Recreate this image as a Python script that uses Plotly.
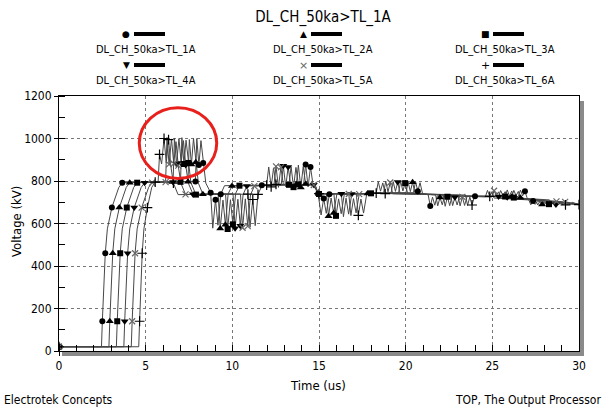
import plotly.graph_objects as go

# ---------------- data ----------------
names = ["DL_CH_50ka>TL_1A", "DL_CH_50ka>TL_2A", "DL_CH_50ka>TL_3A",
         "DL_CH_50ka>TL_4A", "DL_CH_50ka>TL_5A", "DL_CH_50ka>TL_6A"]

t1 = [0, 2.45, 2.5, 2.6, 2.67, 2.79, 3.05, 3.45, 3.65, 5.2, 7.87, 7.95, 8.07, 8.19, 8.32, 8.47,
      8.75, 8.87, 9.03, 9.17, 9.33, 9.55, 11.7, 14.11, 14.23, 14.37, 14.51, 14.65, 14.95, 15.12,
      15.27, 15.42, 15.6, 17.5, 20.45, 20.57, 20.7, 20.83, 20.97, 21.3, 21.42, 21.55, 21.68, 21.82,
      24.0, 26.5, 26.62, 26.75, 26.88, 27.0, 27.1, 27.22, 27.35, 27.47, 27.6, 30]
v1 = [20, 20, 140, 305, 460, 575, 675, 770, 792, 795, 798, 1000, 875, 990, 885, 790,
      745, 578, 712, 592, 738, 778, 780, 782, 878, 772, 866, 785, 740, 640,
      718, 648, 738, 742, 745, 798, 752, 792, 742, 735, 682, 724, 686, 730,
      728, 727, 757, 730, 752, 722, 712, 688, 706, 690, 703, 690]

t2 = [0, 2.88, 2.93, 3.03, 3.1, 3.22, 3.48, 3.88, 4.08, 5.6, 7.44, 7.52, 7.64, 7.76, 7.89, 8.04,
      8.3, 9.18, 9.3, 9.46, 9.6, 9.76, 9.98, 11.7, 13.69, 13.81, 13.95, 14.09, 14.23, 14.7, 15.0,
      15.43, 15.55, 15.7, 15.85, 16.03, 17.8, 20.02, 20.14, 20.27, 20.4, 20.54, 21.73, 21.85,
      21.98, 22.11, 22.25, 24.2, 26.12, 26.24, 26.37, 26.5, 26.62, 27.5, 27.62, 27.75, 27.87,
      28.0, 30]
v2 = [20, 20, 140, 305, 460, 575, 675, 770, 792, 795, 797, 995, 878, 1000, 888, 790,
      738, 740, 576, 710, 594, 740, 776, 780, 783, 875, 770, 868, 786, 784, 740,
      740, 634, 720, 650, 738, 741, 745, 796, 750, 794, 742, 734, 683,
      722, 688, 729, 728, 726, 756, 731, 751, 721, 708, 687, 705, 689,
      702, 689]

t3 = [0, 3.31, 3.36, 3.46, 3.53, 3.65, 3.91, 4.31, 4.51, 5.8, 7.01, 7.09, 7.21, 7.33, 7.46, 7.61,
      7.9, 9.61, 9.73, 9.89, 10.03, 10.19, 10.41, 12.0, 13.27, 13.39, 13.53, 13.67, 13.81, 14.7,
      15.0, 15.86, 15.98, 16.13, 16.28, 16.46, 18.0, 19.59, 19.71, 19.84, 19.97, 20.11, 22.16,
      22.28, 22.41, 22.54, 22.68, 24.3, 25.74, 25.86, 25.99, 26.12, 26.24, 27.9, 28.02, 28.15,
      28.27, 28.4, 30]
v3 = [20, 20, 140, 305, 460, 575, 675, 770, 792, 795, 796, 1004, 880, 992, 885, 792,
      736, 738, 574, 712, 596, 742, 778, 780, 782, 868, 771, 864, 784, 783,
      739, 739, 636, 716, 646, 737, 742, 744, 799, 753, 790, 743, 735,
      681, 726, 684, 731, 729, 727, 758, 729, 753, 722, 710, 689, 707,
      691, 701, 690]

t4 = [0, 3.74, 3.79, 3.89, 3.96, 4.08, 4.34, 4.74, 4.94, 6.0, 6.58, 6.66, 6.78, 6.92, 7.05, 7.18,
      7.31, 7.46, 7.73, 10.04, 10.16, 10.32, 10.46, 10.62, 10.84, 12.82, 12.94, 13.08, 13.22,
      13.36, 14.7, 15.0, 16.29, 16.41, 16.56, 16.71, 16.89, 19.16, 19.28, 19.41, 19.54, 19.68,
      22.59, 22.71, 22.84, 22.97, 23.11, 24.5, 25.36, 25.48, 25.61, 25.74, 25.86, 28.3, 28.42,
      28.55, 28.67, 28.8, 30]
v4 = [20, 20, 140, 305, 460, 575, 675, 770, 792, 795, 795, 1002, 880, 1000, 885, 990,
      875, 790, 738, 740, 578, 714, 590, 736, 777, 781, 872, 773, 866,
      786, 782, 741, 740, 632, 719, 644, 739, 745, 797, 751, 795, 741,
      736, 684, 723, 687, 728, 728, 727, 755, 732, 750, 723, 711, 688,
      704, 690, 703, 690]

t5 = [0, 4.17, 4.22, 4.32, 4.39, 4.51, 4.77, 5.17, 5.37, 5.9, 6.15, 6.23, 6.35, 6.49, 6.62, 6.75,
      6.88, 7.03, 7.3, 10.47, 10.59, 10.75, 10.89, 11.05, 11.27, 12.4, 12.52, 12.66, 12.8, 12.94,
      14.7, 15.0, 16.72, 16.84, 16.99, 17.14, 17.32, 18.73, 18.85, 18.98, 19.11, 19.25, 23.02,
      23.14, 23.27, 23.4, 23.54, 24.98, 25.1, 25.23, 25.36, 25.48, 28.7, 28.82, 28.95, 29.07,
      29.2, 30]
v5 = [20, 20, 140, 305, 460, 575, 675, 770, 792, 795, 795, 1005, 878, 998, 882, 985,
      872, 790, 737, 739, 580, 716, 588, 735, 776, 780, 869, 770, 864, 785,
      781, 740, 739, 637, 717, 650, 738, 744, 800, 749, 793, 740, 733,
      683, 725, 685, 727, 725, 754, 731, 749, 721, 704, 689, 703, 690,
      702, 690]

t6 = [0, 4.6, 4.65, 4.73, 4.8, 4.9, 5.1, 5.35, 5.55, 5.72, 5.8, 5.92, 6.06, 6.19, 6.32, 6.45,
      6.6, 6.87, 10.9, 11.02, 11.18, 11.32, 11.48, 11.7, 11.98, 12.1, 12.24, 12.38, 12.52, 14.7,
      15.0, 17.15, 17.27, 17.42, 17.57, 17.75, 18.3, 18.42, 18.55, 18.68, 18.82, 23.45, 23.57,
      23.7, 23.83, 23.97, 24.6, 24.72, 24.85, 24.98, 25.1, 29.1, 29.22, 29.35, 29.47, 29.6, 30]
v6 = [20, 20, 140, 305, 460, 575, 675, 770, 795, 798, 925, 880, 1000, 885, 995, 870,
      790, 736, 738, 582, 713, 590, 737, 777, 781, 866, 772, 862, 784, 782,
      741, 740, 638, 715, 649, 737, 743, 797, 752, 791, 741, 734, 685,
      724, 687, 728, 726, 756, 728, 750, 720, 702, 688, 701, 689, 700, 689]

times = [t1, t2, t3, t4, t5, t6]
volts = [v1, v2, v3, v4, v5, v6]

y_ticks = [0, 200, 400, 600, 800, 1000, 1200]
x_ticks = [0, 5, 10, 15, 20, 25, 30]

# ---------------- styles ----------------
symbols = ["circle", "triangle-up", "square", "triangle-down", "x-thin", "cross-thin"]
msizes = [6, 7, 6, 7, 6, 7]
mcolors = ["black", "black", "black", "black", "#666666", "black"]
glyphs = ["\u25CF", "\u25B2", "\u25A0", "\u25BC", "\u00D7", "+"]
FONT = "DejaVu Sans Condensed, Liberation Sans Narrow, Arial Narrow, sans-serif"

fig = go.Figure()
for t, v in zip(times, volts):
    fig.add_trace(go.Scatter(x=t, y=v, mode="lines",
                             line=dict(color="#474747", width=1),
                             showlegend=False, hoverinfo="skip"))
for t, v, s, ms, mc, n in zip(times, volts, symbols, msizes, mcolors, names):
    thin = s.endswith("thin")
    # markers every 2nd sample early on, sparser later (as in the plot output)
    mx = [x for i, x in enumerate(t) if (x < 16 and i % 2 == 0) or (x >= 16 and i % 4 == 0)]
    my = [y for i, (x, y) in enumerate(zip(t, v)) if (x < 16 and i % 2 == 0) or (x >= 16 and i % 4 == 0)]
    fig.add_trace(go.Scatter(x=mx, y=my, mode="markers", name=n,
                             marker=dict(symbol=s, size=ms, color=mc,
                                         line=dict(width=1.2 if thin else 0, color=mc)),
                             showlegend=False, hoverinfo="skip"))

# plot-area pixel geometry (for paper coordinates of decorations)
L, R, T, B = 59, 579, 96, 351
W, H = R - L, B - T
def px(x):
    return (x - L) / W
def py(y):
    return (B - y) / H

shapes = []
annotations = []

# legend: 3 columns x 2 rows, symbol + bar above label
col_c = [146, 323, 505]
row_sym = [34, 65]
row_lab = [49, 80]
for i, n in enumerate(names):
    r, c = divmod(i, 3)
    cx = col_c[c]
    annotations.append(dict(x=px(cx - 20), y=py(row_sym[r]), xref="paper", yref="paper",
                            text=glyphs[i], showarrow=False, xanchor="center", yanchor="middle",
                            font=dict(family="DejaVu Sans", size=9 if i < 4 else 11,
                                      color=mcolors[i])))
    shapes.append(dict(type="line", xref="paper", yref="paper",
                       x0=px(cx - 12), x1=px(cx + 19),
                       y0=py(row_sym[r]), y1=py(row_sym[r]),
                       line=dict(color="black", width=4)))
    annotations.append(dict(x=px(cx), y=py(row_lab[r]), xref="paper", yref="paper",
                            text=n, showarrow=False, xanchor="center", yanchor="middle",
                            font=dict(family=FONT, size=11, color="black")))

# axis titles and footer
annotations.append(dict(x=px(16), y=py(222), xref="paper", yref="paper", text="Voltage (kV)",
                        textangle=-90, showarrow=False, xanchor="center", yanchor="middle",
                        font=dict(family=FONT, size=13, color="black")))
annotations.append(dict(x=px(318), y=py(385), xref="paper", yref="paper", text="Time (us)",
                        showarrow=False, xanchor="center", yanchor="middle",
                        font=dict(family=FONT, size=13, color="black")))
annotations.append(dict(x=px(2), y=py(400), xref="paper", yref="paper", text="Electrotek Concepts",
                        showarrow=False, xanchor="left", yanchor="middle",
                        font=dict(family=FONT, size=12, color="black")))
annotations.append(dict(x=px(603), y=py(400), xref="paper", yref="paper",
                        text="TOP, The Output Processor",
                        showarrow=False, xanchor="right", yanchor="middle",
                        font=dict(family=FONT, size=12, color="black")))

# drop shadow of the plot frame
shapes.append(dict(type="rect", xref="paper", yref="paper", x0=px(62), x1=px(584),
                   y0=py(356), y1=py(352), fillcolor="#8a8a8a", line=dict(width=0), layer="above"))
shapes.append(dict(type="rect", xref="paper", yref="paper", x0=px(580), x1=px(584),
                   y0=py(356), y1=py(101), fillcolor="#8a8a8a", line=dict(width=0), layer="above"))

# red highlight circle
shapes.append(dict(type="circle", xref="x", yref="y", x0=4.63, x1=9.1, y0=812, y1=1145,
                   line=dict(color="#e8201c", width=3)))

fig.update_layout(
    width=605, height=409,
    margin=dict(l=L, r=605 - R, t=T, b=409 - B),
    paper_bgcolor="white", plot_bgcolor="white",
    title=dict(text="DL_CH_50ka>TL_1A", x=323 / 605, xanchor="center",
               y=1 - 17 / 409, yanchor="middle",
               font=dict(family=FONT, size=15, color="black")),
    shapes=shapes, annotations=annotations,
    showlegend=False,
)
fig.update_xaxes(range=[0, 30], tickvals=x_ticks, ticktext=[str(v) for v in x_ticks],
                 showline=True, linecolor="black", linewidth=1, mirror=True,
                 ticks="outside", ticklen=4, tickcolor="black",
                 minor=dict(ticks="inside", dtick=1, ticklen=6, tickcolor="black", showgrid=False),
                 showgrid=True, gridcolor="#777777", griddash="dot", gridwidth=1,
                 zeroline=False, tickfont=dict(family=FONT, size=12, color="black"))
fig.update_yaxes(range=[0, 1200], tickvals=y_ticks, ticktext=[str(v) for v in y_ticks],
                 showline=True, linecolor="black", linewidth=1, mirror=True,
                 ticks="outside", ticklen=4, tickcolor="black",
                 minor=dict(ticks="inside", dtick=100, ticklen=6, tickcolor="black", showgrid=False),
                 showgrid=True, gridcolor="#777777", griddash="dot", gridwidth=1,
                 zeroline=False, tickfont=dict(family=FONT, size=12, color="black"))

fig.write_html("out.html")
